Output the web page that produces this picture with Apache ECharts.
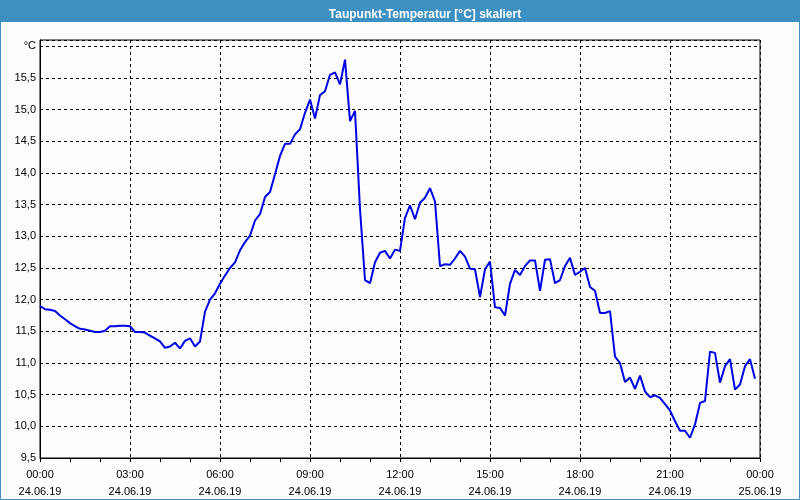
<!DOCTYPE html>
<html>
<head>
<meta charset="utf-8">
<script src="https://cdn.jsdelivr.net/npm/echarts@6/dist/echarts.min.js"></script>
<style>
html,body{margin:0;padding:0;background:#fcfdfd;}
#chart{width:800px;height:500px;}
</style>
</head>
<body>
<div id="chart"></div>
<script>
const chartTitle = 'Taupunkt-Temperatur [°C] skaliert';
const unitLabel = '°C';
const dayStart = '24.06.19';
const dayNext = '25.06.19';

const sampleTimes = [
 '00:00','00:10','00:20','00:30','00:40','00:50',
 '01:00','01:10','01:20','01:30','01:40','01:50',
 '02:00','02:10','02:20','02:30','02:40','02:50',
 '03:00','03:10','03:20','03:30','03:40','03:50',
 '04:00','04:10','04:20','04:30','04:40','04:50',
 '05:00','05:10','05:20','05:30','05:40','05:50',
 '06:00','06:10','06:20','06:30','06:40','06:50',
 '07:00','07:10','07:20','07:30','07:40','07:50',
 '08:00','08:10','08:20','08:30','08:40','08:50',
 '09:00','09:10','09:20','09:30','09:40','09:50',
 '10:00','10:10','10:20','10:30','10:40','10:50',
 '11:00','11:10','11:20','11:30','11:40','11:50',
 '12:00','12:10','12:20','12:30','12:40','12:50',
 '13:00','13:10','13:20','13:30','13:40','13:50',
 '14:00','14:10','14:20','14:30','14:40','14:50',
 '15:00','15:10','15:20','15:30','15:40','15:50',
 '16:00','16:10','16:20','16:30','16:40','16:50',
 '17:00','17:10','17:20','17:30','17:40','17:50',
 '18:00','18:10','18:20','18:30','18:40','18:50',
 '19:00','19:10','19:20','19:30','19:40','19:50',
 '20:00','20:10','20:20','20:30','20:40','20:50',
 '21:00','21:10','21:20','21:30','21:40','21:50',
 '22:00','22:10','22:20','22:30','22:40','22:50',
 '23:00','23:10','23:20','23:30','23:40','23:50'
];

const dewPoint = [
 11.90,11.85,11.84,11.82,11.75,11.69,
 11.63,11.58,11.54,11.53,11.51,11.49,
 11.49,11.51,11.58,11.58,11.59,11.59,
 11.58,11.49,11.49,11.48,11.43,11.39,
 11.34,11.24,11.26,11.32,11.23,11.35,
 11.39,11.26,11.34,11.81,12.00,12.10,
 12.25,12.38,12.50,12.59,12.78,12.91,
 13.01,13.25,13.35,13.62,13.70,13.98,
 14.27,14.46,14.46,14.61,14.69,14.95,
 15.16,14.86,15.23,15.29,15.55,15.59,
 15.40,15.79,14.82,14.98,13.43,12.31,
 12.26,12.59,12.74,12.77,12.65,12.79,
 12.77,13.29,13.49,13.27,13.53,13.61,
 13.76,13.55,12.53,12.56,12.55,12.65,
 12.77,12.68,12.49,12.48,12.04,12.48,
 12.60,11.88,11.87,11.75,12.25,12.47,
 12.39,12.53,12.62,12.62,12.14,12.63,
 12.64,12.26,12.31,12.53,12.66,12.39,
 12.44,12.50,12.20,12.14,11.79,11.79,
 11.82,11.10,11.00,10.70,10.77,10.59,
 10.80,10.55,10.46,10.49,10.45,10.35,
 10.25,10.08,9.93,9.93,9.82,10.03,
 10.37,10.40,11.18,11.16,10.69,10.95,
 11.06,10.58,10.66,10.95,11.06,10.75
];

function toMinutes(s){ const p = s.split(':'); return (+p[0])*60 + (+p[1]); }
function pad(n){ return (n<10?'0':'')+n; }

const seriesData = sampleTimes.map((t,i)=>[toMinutes(t), dewPoint[i]]);

const font = 'Liberation Sans';
const chart = echarts.init(document.getElementById('chart'), null, {renderer:'canvas'});
chart.setOption({
  backgroundColor: '#fcfdfd',
  animation: false,
  graphic: [
    {type:'rect', z:-10, shape:{x:0,y:0,width:800,height:22}, style:{fill:'#3d90c2'}},
    {type:'rect', z:-10, shape:{x:0.5,y:0.5,width:799,height:499}, style:{fill:null, stroke:'#3d90c2', lineWidth:1}}
  ],
  title: {
    text: chartTitle,
    left: 420, top: 4, textAlign: 'center',
    textStyle: {color:'#ffffff', fontFamily: font, fontWeight:'bold', fontSize:12}
  },
  grid: {left:40, right:40, top:40, bottom:40, show:true, borderColor:'#000', borderWidth:1, backgroundColor:'transparent'},
  xAxis: {
    type:'value', min:0, max:1440, interval:180,
    axisLine:{show:true, lineStyle:{color:'#000', width:1}},
    axisTick:{show:true, length:4, lineStyle:{color:'#000'}},
    minorTick:{show:true, splitNumber:3, length:4, lineStyle:{color:'#000'}},
    splitLine:{show:true, lineStyle:{color:'#000', type:[3,3], width:1}},
    axisLabel:{
      color:'#000', fontFamily:font, fontSize:11, margin:8, lineHeight:17,
      formatter: function(v){
        const h = Math.floor(v/60)%24, m = v%60;
        return pad(h)+':'+pad(m)+'\n'+(v>=1440?dayNext:dayStart);
      }
    }
  },
  yAxis: {
    type:'value', min:9.5, max:16.1, interval:0.5,
    axisLine:{show:true, lineStyle:{color:'#000', width:1}},
    axisTick:{show:false},
    splitLine:{show:true, lineStyle:{color:'#000', type:[3,3], width:1}},
    axisLabel:{
      color:'#000', fontFamily:font, fontSize:11, margin:4,
      formatter: function(v){
        if (Math.abs(v-16)<1e-6) return unitLabel;
        if (Math.abs(v*2-Math.round(v*2))>1e-6) return '';
        return v.toFixed(1).replace('.', ',');
      }
    }
  },
  series: [{
    type:'line', data: seriesData, symbol:'none', smooth:false,
    lineStyle:{color:'#0000e6', width:2},
    itemStyle:{color:'#0000e6'}
  }]
});
</script>
</body>
</html>
